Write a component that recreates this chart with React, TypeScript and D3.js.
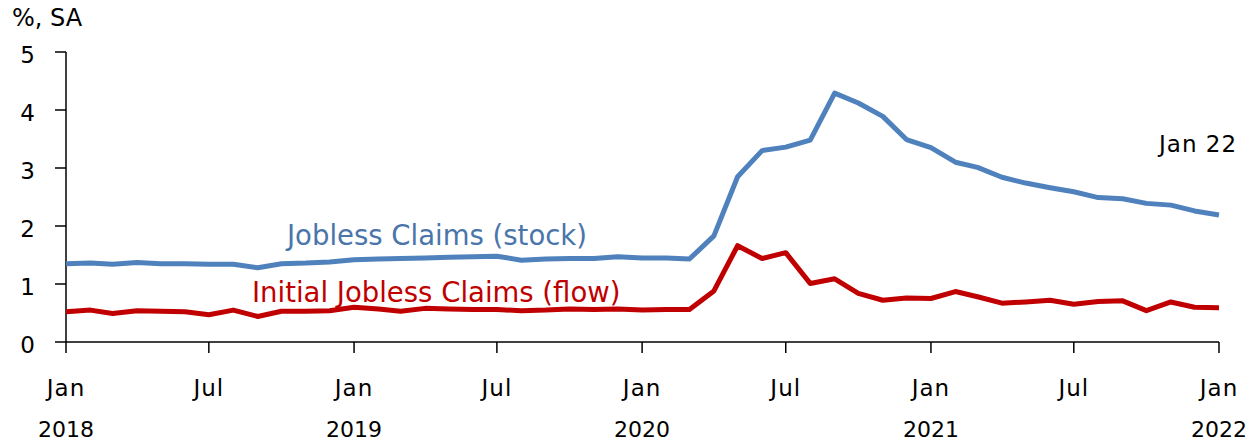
import React from 'react';
import { scaleTime, scaleLinear, line } from 'd3';

// monthly, Jan 2018 .. Jan 2022
const stock = [
  1.35, 1.36, 1.34, 1.37, 1.35, 1.35, 1.34, 1.34, 1.28, 1.35, 1.36, 1.38,
  1.42, 1.43, 1.44, 1.45, 1.46, 1.47, 1.48, 1.41, 1.43, 1.44, 1.44, 1.47,
  1.45, 1.45, 1.43, 1.83, 2.85, 3.30, 3.36, 3.48, 4.29, 4.12, 3.89, 3.49,
  3.35, 3.10, 3.01, 2.84, 2.74, 2.66, 2.59, 2.49, 2.47, 2.39, 2.36, 2.26,
  2.19,
];
const flow = [
  0.52, 0.55, 0.49, 0.54, 0.53, 0.52, 0.47, 0.55, 0.44, 0.53, 0.53, 0.54,
  0.60, 0.57, 0.53, 0.58, 0.57, 0.56, 0.56, 0.54, 0.55, 0.57, 0.56, 0.57,
  0.55, 0.56, 0.56, 0.88, 1.66, 1.44, 1.54, 1.01, 1.09, 0.84, 0.72, 0.76,
  0.75, 0.87, 0.78, 0.67, 0.69, 0.72, 0.65, 0.70, 0.71, 0.54, 0.69, 0.60,
  0.59,
];
const months = stock.map((_, i) => new Date(2018, i, 1));
const tickMonths = ['Jan', 'Jul', 'Jan', 'Jul', 'Jan', 'Jul', 'Jan', 'Jul', 'Jan'];
const tickYears = ['2018', '', '2019', '', '2020', '', '2021', '', '2022'];
const yTicks = [0, 1, 2, 3, 4, 5];

const FONT = '"DejaVu Sans", sans-serif';

export default function App() {
  const x = scaleTime()
    .domain([months[0], months[months.length - 1]])
    .range([66, 1219]);
  const y = scaleLinear().domain([0, 5]).range([342, 52]);

  const path = line<number>()
    .x((_, i) => x(months[i]))
    .y(d => y(d));

  const tickDates = tickMonths.map((_, i) => new Date(2018, i * 6, 1));

  return (
    <svg
      width={1250}
      height={444}
      style={{ position: 'absolute', left: 0, top: 0, background: '#fff' }}
      fontFamily={FONT}
    >
      <text x={12} y={26} fontSize={24} fill="#000">%, SA</text>

      {/* y axis */}
      <line x1={66} x2={66} y1={y(5)} y2={y(0)} stroke="#000" strokeWidth={1.5} />
      {yTicks.map(t => (
        <g key={t}>
          <line x1={55} x2={66} y1={y(t)} y2={y(t)} stroke="#000" strokeWidth={1.5} />
          <text x={35} y={y(t) + 11} textAnchor="end" fontSize={23} fill="#000">
            {t}
          </text>
        </g>
      ))}

      {/* x axis */}
      <line x1={66} x2={1219} y1={y(0)} y2={y(0)} stroke="#000" strokeWidth={1.5} />
      {tickDates.map((d, i) => (
        <g key={i} transform={`translate(${x(d)},0)`}>
          <line y1={y(0)} y2={y(0) + 11} stroke="#000" strokeWidth={1.5} />
          <text y={396} textAnchor="middle" fontSize={23} letterSpacing={1} fill="#000">{tickMonths[i]}</text>
          {tickYears[i] && (
            <text y={437} textAnchor="middle" fontSize={22} fill="#000">{tickYears[i]}</text>
          )}
        </g>
      ))}

      <path d={path(stock) || ''} fill="none" stroke="#4F81BD" strokeWidth={5} strokeLinejoin="round" />
      <path d={path(flow) || ''} fill="none" stroke="#C00000" strokeWidth={5} strokeLinejoin="round" />

      <text x={287} y={245} fontSize={27.5} fill="#4A75AA">Jobless Claims (stock)</text>
      <text x={252} y={302} fontSize={27.5} fill="#C00000">Initial Jobless Claims (flow)</text>
      <text x={1159} y={152} fontSize={23} letterSpacing={1} fill="#000">Jan 22</text>
    </svg>
  );
}
